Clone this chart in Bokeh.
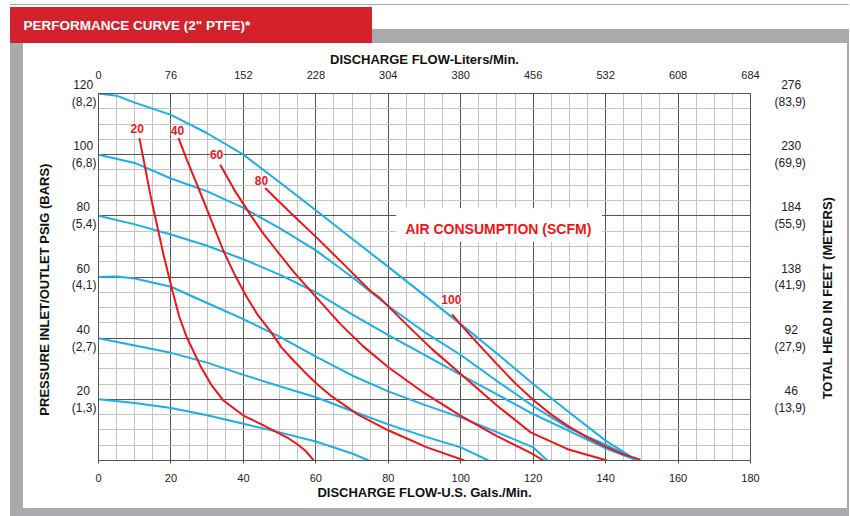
from bokeh.plotting import figure
from bokeh.models import Range1d, LinearAxis, FixedTicker, Label, BoxAnnotation
from bokeh.embed import file_html
from bokeh.resources import INLINE
import math

NB = "\u00a0"

# ---------------- data ----------------
gal_ticks = [0, 20, 40, 60, 80, 100, 120, 140, 160, 180]
gal_minor = [0, 5, 10, 15, 20, 25, 30, 35, 40, 45, 50, 55, 60, 65, 70, 75, 80, 85, 90,
             95, 100, 105, 110, 115, 120, 125, 130, 135, 140, 145, 150, 155, 160, 165,
             170, 175, 180]
liters_labels = ["0", "76", "152", "228", "304", "380", "456", "532", "608", "684"]

psi_grid = [0, 20, 40, 60, 80, 100, 120]
psi_minor = [0, 5, 10, 15, 20, 25, 30, 35, 40, 45, 50, 55, 60, 65, 70, 75, 80, 85, 90,
             95, 100, 105, 110, 115, 120]
psi_ticks = [20, 40, 60, 80, 100, 120]
psi_labels = ["20" + NB * 2 + "\n(1,3)", "40" + NB * 2 + "\n(2,7)", "60" + NB * 2 + "\n(4,1)",
              "80" + NB * 2 + "\n(5,4)", "100" + NB + "\n(6,8)", "120" + NB + "\n(8,2)"]
head_labels = [NB * 3 + "46\n(13,9)", NB * 3 + "92\n(27,9)", NB * 2 + "138\n(41,9)",
               NB * 2 + "184\n(55,9)", NB * 2 + "230\n(69,9)", NB * 2 + "276\n(83,9)"]

# inlet-pressure curves (blue): flow gpm vs outlet psig
blue_120_gpm = [0, 5, 10, 20, 30, 40, 50, 60, 70, 80, 90, 100, 110, 120, 130, 140, 148.7]
blue_120_psi = [120, 119.3, 117.0, 113.0, 107.0, 100.0, 91.0, 81.8, 72.5, 63.3, 54.0, 44.6, 35.0, 25.0, 15.7, 6.5, 0]
blue_100_gpm = [0, 10, 20, 30, 40, 50, 60, 70, 80, 90, 100, 110, 120, 130, 140, 148.7]
blue_100_psi = [100, 97.3, 92.2, 88.0, 82.6, 76.0, 68.7, 60.0, 50.5, 42.0, 34.5, 26.0, 17.8, 10.5, 5.2, 0]
blue_80_gpm = [0, 10, 20, 30, 40, 50, 60, 70, 80, 90, 100, 110, 120, 130, 140, 148.7]
blue_80_psi = [80, 77.2, 73.9, 70.2, 65.8, 60.8, 55.0, 47.8, 41.0, 34.5, 28.0, 21.6, 15.2, 9.6, 4.0, 0]
blue_60_gpm = [0, 5, 10, 20, 30, 40, 50, 60, 70, 80, 90, 100, 110, 120, 123.9]
blue_60_psi = [60, 60.2, 59.5, 56.8, 51.5, 46.2, 40.5, 34.0, 27.8, 22.6, 18.2, 14.1, 9.3, 4.3, 0]
blue_40_gpm = [0, 10, 20, 30, 40, 50, 60, 70, 80, 90, 100, 107.7]
blue_40_psi = [40, 37.6, 35.2, 32.0, 28.0, 24.3, 20.7, 16.2, 11.8, 7.9, 4.3, 0]
blue_20_gpm = [0, 10, 20, 30, 40, 50, 60, 70, 74.6]
blue_20_psi = [20, 18.8, 17.2, 14.8, 12.0, 9.2, 6.2, 2.3, 0]

# air-consumption curves (red, SCFM)
red_20_gpm = [11.3, 14.3, 18.0, 20.3, 22.3, 24.4, 28.1, 31.0, 34.5, 40.0, 45.0, 49.3, 52.5, 54.8, 57.3, 59.4]
red_20_psi = [105.4, 87.0, 67.0, 56.0, 47.0, 40.2, 31.0, 25.0, 19.6, 14.7, 11.8, 9.2, 7.2, 5.4, 3.0, 0]
red_40_gpm = [22.1, 24.5, 27.2, 30.5, 34.5, 37.5, 41.0, 44.0, 47.4, 50.5, 53.9, 57.0, 60.3, 64.0, 66.8, 71.4, 80.1, 90.7, 101.0]
red_40_psi = [105.4, 98.0, 90.2, 80.5, 68.5, 61.0, 53.3, 47.5, 42.4, 37.0, 32.6, 28.8, 25.0, 21.3, 19.0, 15.2, 9.8, 4.3, 0]
red_60_gpm = [33.6, 37.5, 41.9, 45.5, 49.3, 54.0, 59.4, 66.8, 73.0, 80.1, 90.0, 99.9, 110.0, 119.3, 122.9]
red_60_psi = [96.7, 88.5, 80.4, 74.2, 68.5, 61.5, 54.3, 44.6, 37.4, 30.4, 22.0, 14.7, 8.0, 2.5, 0]
red_80_gpm = [46.0, 53.0, 60.3, 68.0, 75.0, 77.8, 85.0, 92.0, 100.0, 110.0, 119.3, 130.0, 140.4]
red_80_psi = [89.1, 81.0, 72.8, 63.8, 55.5, 53.0, 44.5, 36.5, 28.3, 18.0, 9.2, 3.5, 0]
red_100_gpm = [97.6, 100.5, 103.6, 110.0, 115.0, 120.2, 125.0, 130.0, 135.0, 140.4, 145.0, 149.6]
red_100_psi = [47.8, 43.8, 39.7, 31.5, 25.3, 19.6, 15.0, 11.0, 7.5, 4.3, 2.0, 0.3]

scfm_labels = ["20", "40", "60", "80", "100"]
scfm_label_gpm = [10.7, 21.8, 32.6, 45.0, 97.4]
scfm_label_psi = [108.6, 107.8, 100.0, 91.6, 52.5]

# ---------------- styling ----------------
FONT = "Liberation Sans"
BLUE = "#1caee6"
RED = "#f01418"
MAJOR = "#555555"
MINOR = "#c3c3c3"
GRAY = "#a9aaad"
HEADER_RED = "#d3222b"

panel_bg = ", ".join([
    f"linear-gradient({GRAY},{GRAY}) 10px 4px / 839px 1px no-repeat",
    f"linear-gradient({HEADER_RED},{HEADER_RED}) 10px 7px / 362px 36px no-repeat",
    f"linear-gradient({GRAY},{GRAY}) 372px 29px / 477px 14px no-repeat",
    f"linear-gradient({GRAY},{GRAY}) 10px 43px / 13px 473px no-repeat",
    f"linear-gradient({GRAY},{GRAY}) 10px 508px / 839px 8px no-repeat",
    f"linear-gradient({GRAY},{GRAY}) 847px 29px / 2px 487px no-repeat",
    "white",
])

p = figure(width=850, height=516, x_range=Range1d(0, 180), y_range=Range1d(0, 120),
           output_backend="svg", toolbar_location=None,
           min_border_left=98, min_border_right=100, min_border_top=92, min_border_bottom=56,
           background_fill_color="white", border_fill_alpha=0,
           styles={"background": panel_bg})
p.outline_line_color = MAJOR

# header as the plot title
p.title.text = 'PERFORMANCE CURVE (2" PTFE)*'
p.title.text_color = "white"
p.title.text_font = FONT
p.title.text_font_style = "bold"
p.title.text_font_size = "13.5px"
p.title.align = "left"
p.title.offset = -75
p.title.standoff = 31

# grids
p.xgrid.ticker = FixedTicker(ticks=gal_ticks, minor_ticks=gal_minor)
p.ygrid.ticker = FixedTicker(ticks=psi_grid, minor_ticks=psi_minor)
for g in (p.xgrid[0], p.ygrid[0]):
    g.grid_line_color = MAJOR
    g.grid_line_width = 1
    g.minor_grid_line_color = MINOR
    g.minor_grid_line_width = 1

# bottom axis
xa = p.xaxis[0]
xa.ticker = FixedTicker(ticks=gal_ticks)
xa.axis_label = "DISCHARGE FLOW-U.S. Gals./Min."
xa.axis_label_text_font = FONT
xa.axis_label_text_font_style = "bold"
xa.axis_label_text_font_size = "13px"
xa.axis_label_text_color = "#111111"
xa.axis_label_standoff = 0
xa.major_label_standoff = 10
xa.major_label_text_font = FONT
xa.major_label_text_font_size = "11px"
xa.major_label_text_color = "#222222"
xa.major_tick_in = 0
xa.major_tick_out = 3
xa.major_tick_line_color = MAJOR
xa.minor_tick_line_color = None
xa.axis_line_color = MAJOR

# top axis (liters/min)
ta = LinearAxis(ticker=FixedTicker(ticks=gal_ticks),
                major_label_overrides={t: l for t, l in zip(gal_ticks, liters_labels)})
ta.axis_label = "DISCHARGE FLOW-Liters/Min."
ta.axis_label_text_font = FONT
ta.axis_label_text_font_style = "bold"
ta.axis_label_text_font_size = "13px"
ta.axis_label_text_color = "#111111"
ta.axis_label_standoff = 1
ta.major_label_standoff = 15
ta.major_label_text_font = FONT
ta.major_label_text_font_size = "11px"
ta.major_label_text_color = "#222222"
ta.major_tick_in = 0
ta.major_tick_out = 0
ta.minor_tick_line_color = None
ta.axis_line_color = MAJOR
p.add_layout(ta, "above")

# left axis (psig / bars)
ya = p.yaxis[0]
ya.ticker = FixedTicker(ticks=psi_ticks)
ya.major_label_overrides = {t: l for t, l in zip(psi_ticks, psi_labels)}
ya.axis_label = "PRESSURE INLET/OUTLET PSIG (BARS)" + NB * 7
ya.axis_label_text_font = FONT
ya.axis_label_text_font_style = "bold"
ya.axis_label_text_font_size = "13px"
ya.axis_label_text_color = "#111111"
ya.axis_label_standoff = 17
ya.major_label_standoff = 2
ya.major_label_text_font = FONT
ya.major_label_text_font_size = "12px"
ya.major_label_text_color = "#222222"
ya.major_tick_in = 0
ya.major_tick_out = 0
ya.minor_tick_line_color = None
ya.axis_line_color = MAJOR

# right axis (feet / meters)
ra = LinearAxis(ticker=FixedTicker(ticks=psi_ticks),
                major_label_overrides={t: l for t, l in zip(psi_ticks, head_labels)})
ra.major_label_standoff = 24
ra.major_label_text_font = FONT
ra.major_label_text_font_size = "12px"
ra.major_label_text_color = "#222222"
ra.major_tick_in = 0
ra.major_tick_out = 0
ra.minor_tick_line_color = None
ra.axis_line_color = MAJOR
p.add_layout(ra, "right")

# right axis title, rendered as a single rotated tick label (reads bottom-to-top)
right_title_anchor = [20]
rt = LinearAxis(ticker=FixedTicker(ticks=right_title_anchor),
                major_label_overrides={right_title_anchor[0]: "TOTAL HEAD IN FEET (METERS)"})
rt.major_label_orientation = math.pi / 2
rt.major_label_standoff = 19
rt.major_label_text_font = FONT
rt.major_label_text_font_style = "bold"
rt.major_label_text_font_size = "13px"
rt.major_label_text_color = "#111111"
rt.major_tick_in = 0
rt.major_tick_out = 0
rt.minor_tick_line_color = None
rt.axis_line_color = None
p.add_layout(rt, "right")

# curves
for xs, ys in [(blue_120_gpm, blue_120_psi), (blue_100_gpm, blue_100_psi),
               (blue_80_gpm, blue_80_psi), (blue_60_gpm, blue_60_psi),
               (blue_40_gpm, blue_40_psi), (blue_20_gpm, blue_20_psi)]:
    p.line(xs, ys, line_color=BLUE, line_width=2)
for xs, ys in [(red_20_gpm, red_20_psi), (red_40_gpm, red_40_psi), (red_60_gpm, red_60_psi),
               (red_80_gpm, red_80_psi), (red_100_gpm, red_100_psi)]:
    p.line(xs, ys, line_color=RED, line_width=2)

# curve labels
for t, x, y in zip(scfm_labels, scfm_label_gpm, scfm_label_psi):
    p.add_layout(Label(x=x, y=y, text=t, text_color=RED, text_font=FONT,
                       text_font_style="bold", text_font_size="12px",
                       text_align="center", text_baseline="middle",
                       background_fill_color="white"))

# air consumption caption with white box
p.add_layout(BoxAnnotation(left=82.2, right=139.0, bottom=71.5, top=82.5,
                           fill_color="white", fill_alpha=1, line_color=None))
p.add_layout(Label(x=110.4, y=75.6, text="AIR CONSUMPTION (SCFM)", text_color=RED,
                   text_font=FONT, text_font_style="bold", text_font_size="14px",
                   text_align="center", text_baseline="middle"))

open("out.html", "w").write(file_html(p, INLINE))
